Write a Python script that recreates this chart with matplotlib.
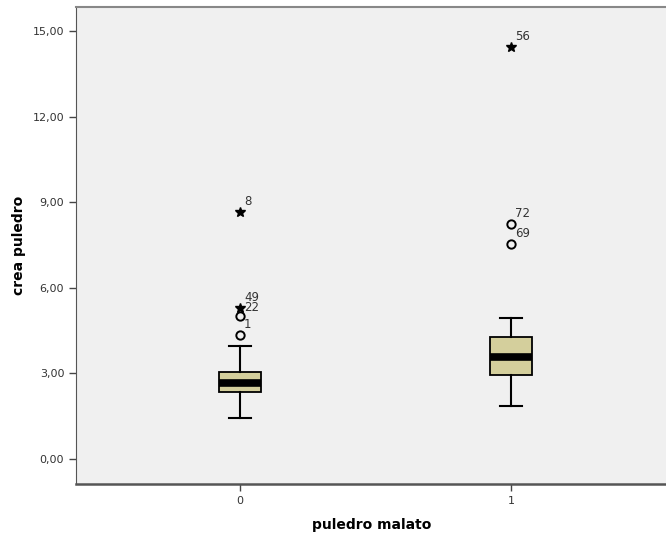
import matplotlib
matplotlib.use('Agg')
import matplotlib.pyplot as plt
from matplotlib.ticker import FuncFormatter

# box statistics
groups = [0, 1]
q1 = [2.36, 2.93]
med = [2.65, 3.56]
q3 = [3.04, 4.28]
whislo = [1.45, 1.87]
whishi = [3.97, 4.95]

# outliers (circles) and extremes (stars) with case labels
out_g = [0, 0, 1, 1]
out_v = [4.33, 5.01, 8.22, 7.52]
out_l = ['1', '22', '72', '69']
ext_g = [0, 0, 1]
ext_v = [8.65, 5.28, 14.43]
ext_l = ['8', '49', '56']

yticks = [0, 3, 6, 9, 12, 15]

fig = plt.figure(figsize=(6.66, 5.4), dpi=100)
ax = fig.add_axes([76/666, 1-484/540, 592/666, 477/540])
ax.set_facecolor('#f0f0f0')

stats = [dict(q1=q1[i], med=med[i], q3=q3[i], whislo=whislo[i], whishi=whishi[i], fliers=[])
         for i in range(len(groups))]
ax.bxp(stats, positions=groups, widths=0.155, patch_artist=True, showfliers=False,
       boxprops=dict(facecolor='#d4cf9c', edgecolor='black', linewidth=1.3),
       medianprops=dict(color='black', linewidth=5.5, solid_capstyle='butt'),
       whiskerprops=dict(color='black', linewidth=1.5),
       capprops=dict(color='black', linewidth=1.5), capwidths=0.08)

ax.plot(out_g, out_v, 'o', ms=6, mfc='none', mec='black', mew=1.4, ls='none')
ax.plot(ext_g, ext_v, '*', ms=7, color='black', ls='none')
for g, v, l in zip(out_g + ext_g, out_v + ext_v, out_l + ext_l):
    dy = 8 if l != '22' else 6
    ax.annotate(l, (g, v), xytext=(3, dy), textcoords='offset points',
                fontsize=8.5, color='#333333', va='center', ha='left')

ax.set_xlim(-0.605, 1.58)
ax.set_ylim(-0.876, 15.84)
ax.set_yticks(yticks)
ax.set_xticks(groups)
ax.set_xticklabels(['0', '1'])
ax.yaxis.set_major_formatter(FuncFormatter(lambda v, p: f'{v:.2f}'.replace('.', ',')))
ax.tick_params(labelsize=8, labelcolor='#333333', color='#444444', length=5, width=1)

ax.spines['right'].set_visible(False)
ax.spines['top'].set_color('#888888')
ax.spines['top'].set_linewidth(1.5)
ax.spines['left'].set_color('#555555')
ax.spines['bottom'].set_color('#555555')
ax.spines['bottom'].set_linewidth(1.8)

ax.set_ylabel('crea puledro', fontsize=10, fontweight='bold', labelpad=5)
ax.set_xlabel('puledro malato', fontsize=10, fontweight='bold', labelpad=9)

fig.savefig('out.png', dpi=100)
